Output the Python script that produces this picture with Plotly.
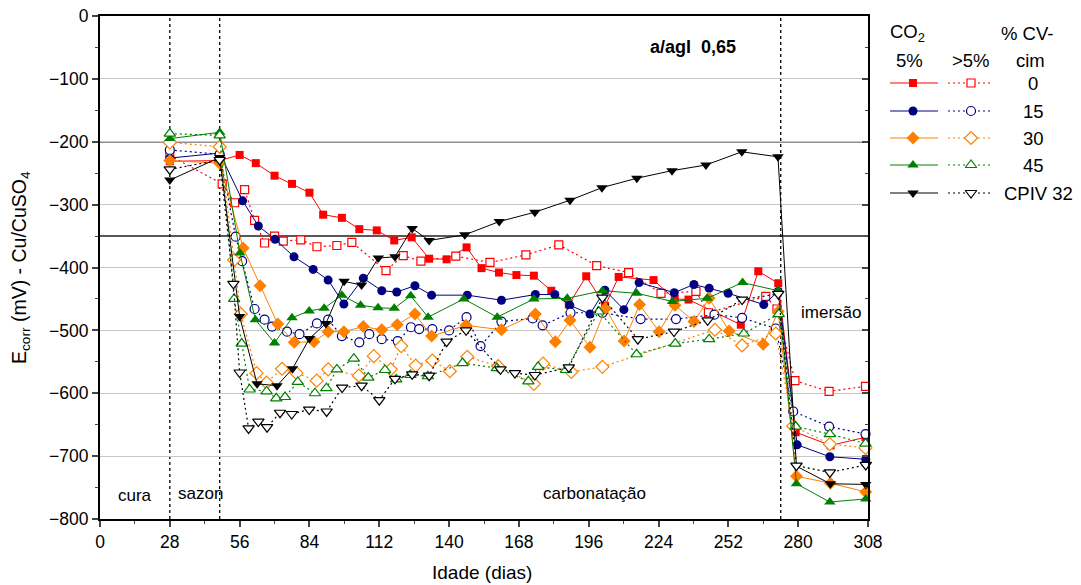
import plotly.graph_objects as go

# ---- data: age (days) and corrosion potential (mV vs Cu/CuSO4) ----
# 0 % CV (reference), 5 % CO2 and >5 % CO2
d0_5 = [28, 48, 56, 62.5, 70, 77, 84, 89.5, 97, 104, 111, 118, 125, 132, 139, 147, 153, 160, 167, 174,
        181, 188, 195, 202.5, 208, 222, 230.5, 236, 257, 264, 272, 279, 293, 307]
e0_5 = [-231, -230, -221, -234, -254, -267, -281, -316, -321, -339, -341, -357, -352, -386, -387, -368,
        -401, -408, -412, -413, -437, -459, -414, -461, -415, -420, -450, -451, -491, -406, -425, -662, -683, -670]
d0_g = [28, 49, 54, 58, 62, 66, 70, 73.5, 80.5, 87, 95, 101, 114.7, 121.6, 128.7, 142.7, 156.4, 170.8,
        184, 199.2, 212, 225, 239, 244, 267, 271.5, 278.7, 292.4, 307]
e0_g = [-222, -267, -297, -276, -325, -361, -350, -358, -356, -367, -365, -360, -405, -381, -390, -382,
        -392, -380, -364, -397, -408, -441, -438, -472, -446, -466, -580, -597, -589]

# 15 % CV
d15_5 = [28, 48, 57.2, 63.5, 70.2, 77.8, 85.5, 91.5, 97.8, 105.6, 113, 119, 126.3, 133, 147.3, 161, 174.6,
         182.4, 188.4, 196.5, 202.5, 210.1, 216.2, 230.3, 238.2, 244.3, 251.9, 266.2, 272, 279.6, 292.7, 307.1]
e15_5 = [-226, -218, -294, -334, -355, -383, -403, -420, -458, -417, -437, -439, -429, -444, -444, -452,
         -443, -443, -460, -474, -436, -467, -424, -440, -427, -433, -441, -459, -438, -682, -701, -705]
d15_g = [28, 48, 54.4, 57, 62, 66, 69, 75, 80, 87, 91.5, 97, 104, 108, 113, 119.4, 124.7, 128, 133.3, 140,
         147, 152.6, 161, 173.5, 177.5, 188.7, 201.5, 216.8, 231, 246.4, 257.5, 271, 278, 292.4, 307]
e15_g = [-213, -220, -351, -390, -466, -483, -494, -502, -506, -489, -483, -509, -519, -506, -514, -517,
         -495, -498, -498, -500, -479, -525, -486, -481, -492, -472, -472, -482, -482, -475, -480, -497,
         -629, -653, -665]

# 30 % CV
d30_5 = [28, 48, 57.4, 64.2, 71.3, 77.9, 85.8, 91.5, 97.8, 105.6, 113, 119.2, 126.3, 133, 146.8, 161,
         174.6, 182.6, 188.5, 196.5, 202.8, 210.2, 216.4, 224.2, 230.6, 238.2, 244.3, 252.3, 266, 272,
         279.3, 292.9, 307.1]
e30_5 = [-230, -234, -369, -429, -490, -519, -518, -502, -502, -494, -499, -491, -474, -509, -492, -499,
         -474, -518, -484, -527, -465, -517, -459, -502, -460, -486, -449, -501, -522, -470, -732, -743, -757]
d30_g = [28, 48, 53.8, 56.5, 62.8, 66.8, 73, 78.8, 86.9, 91.5, 103.8, 109.8, 116.6, 120.8, 126.6, 133.3,
         140.3, 147.3, 159.7, 174, 177.7, 189, 201.5, 246.6, 257.5, 271, 278, 292.7, 307]
e30_g = [-201, -208, -388, -474, -568, -583, -561, -568, -580, -562, -572, -541, -562, -525, -556, -548,
         -565, -542, -557, -585, -553, -566, -558, -499, -524, -505, -652, -681, -687]

# 45 % CV
d45_5 = [28, 48, 56.1, 62.3, 70, 77, 83.9, 89.9, 97, 104.5, 111.5, 118, 124.6, 131.6, 145.9, 159.3, 174,
         187.4, 201.5, 215.2, 229.6, 243.5, 257.7, 272, 279.3, 292.7, 307.1]
e45_5 = [-195, -185, -377, -483, -520, -480, -469, -465, -444, -460, -464, -465, -445, -479, -450, -479,
         -450, -449, -437, -441, -454, -449, -424, -437, -744, -773, -768]
d45_g = [28, 48, 53.8, 56.8, 60, 66.8, 70.7, 74.2, 79.3, 86.2, 90.8, 95, 101.8, 107.6, 114.3, 118.8, 124.5,
         131.5, 145.4, 159.2, 171.8, 175.7, 186.9, 200, 215.2, 230.7, 244.3, 258.2, 272.2, 279, 292.7, 307]
e45_g = [-187, -190, -450, -521, -594, -597, -608, -606, -582, -600, -592, -562, -545, -575, -563, -578,
         -571, -573, -552, -560, -581, -558, -563, -470, -538, -521, -514, -505, -474, -653, -665, -680]

# CPIV 32
dcp_5 = [28, 48, 56, 63, 71, 77.2, 84, 90.6, 97.9, 104.9, 111.6, 118.3, 125.2, 132, 146.3, 160.1, 174.4,
         188.5, 201.3, 215.3, 229.4, 243, 257.4, 271.9, 279.3, 292.9, 307.1]
ecp_5 = [-261, -225, -478, -585, -588, -561, -513, -489, -422, -428, -385, -383, -338, -357, -348, -327,
         -312, -293, -273, -258, -246, -237, -216, -224, -716, -744, -745]
dcp_g = [28, 48, 53.5, 56, 59.6, 63.5, 67, 72.2, 76.9, 83.9, 90.9, 97.1, 104.9, 112, 118.3, 125.2, 132,
         139, 146.8, 160.6, 166.4, 174.4, 188, 201.5, 215.7, 230.2, 243.7, 257.5, 272, 279.3, 292.7, 307.1]
ecp_g = [-244, -229, -426, -567, -656, -645, -654, -631, -633, -626, -629, -591, -588, -611, -577, -570,
         -572, -518, -500, -562, -568, -571, -559, -448, -514, -502, -484, -451, -442, -715, -726, -714]

mix_labels = ["0", "15", "30", "45", "CPIV 32"]
x_ticks = list(range(0, 309, 28))
y_ticks = list(range(-800, 1, 100))
stage_days = [28, 48, 273]           # end of curing, seasoning, start of immersion
limit_lines = [-200, -350]           # ASTM C876 thresholds

RED, NAVY, ORANGE, GREEN, BLACK = "#FF0000", "#000080", "#FF8000", "#008000", "#000000"
FONT = "Liberation Sans, Arial, sans-serif"
DOT = "2px,3px"

W, H = 1081, 585
ML, MR, MT, MB = 100, 1, 16, 66
PW, PH = W - ML - MR, H - MT - MB          # paper (plotting) area in px
X_END = 868                                 # right frame of the main plot, px

series = [
    (d0_5, e0_5, d0_g, e0_g, RED, "square", 8),
    (d15_5, e15_5, d15_g, e15_g, NAVY, "circle", 9),
    (d30_5, e30_5, d30_g, e30_g, ORANGE, "diamond", 10),
    (d45_5, e45_5, d45_g, e45_g, GREEN, "triangle-up", 10),
    (dcp_5, ecp_5, dcp_g, ecp_g, BLACK, "triangle-down", 10),
]

fig = go.Figure()
for d5, e5, dg, eg, col, sym, sz in series:
    fig.add_trace(go.Scatter(
        x=d5, y=e5, mode="lines+markers", cliponaxis=False, showlegend=False,
        line=dict(color=col, width=1),
        marker=dict(symbol=sym, size=sz, color=col, line=dict(color=col, width=0))))
    fig.add_trace(go.Scatter(
        x=dg, y=eg, mode="lines+markers", cliponaxis=False, showlegend=False,
        line=dict(color=col, width=1.2, dash=DOT),
        marker=dict(symbol=sym, size=sz, color="white", line=dict(color=col, width=1.2))))

# axis carrying the inward ticks on the right-hand frame
fig.add_trace(go.Scatter(x=[None], y=[None], xaxis="x", yaxis="y2", showlegend=False))

# ---- key drawn in its own pixel-mapped axes on the right ----
KEY_FONT = dict(size=18.5, color="black", family=FONT)
row_y = [83, 111, 138, 165, 193]
for (d5, e5, dg, eg, col, sym, sz), ry, lab in zip(series, row_y, mix_labels):
    fig.add_trace(go.Scatter(x=[890, 938], y=[ry, ry], mode="lines", xaxis="x3", yaxis="y3",
                             line=dict(color=col, width=1), showlegend=False, hoverinfo="skip"))
    fig.add_trace(go.Scatter(x=[913], y=[ry], mode="markers", xaxis="x3", yaxis="y3", showlegend=False,
                             marker=dict(symbol=sym, size=sz, color=col), hoverinfo="skip"))
    fig.add_trace(go.Scatter(x=[948, 993], y=[ry, ry], mode="lines", xaxis="x3", yaxis="y3",
                             line=dict(color=col, width=1.2, dash=DOT), showlegend=False, hoverinfo="skip"))
    fig.add_trace(go.Scatter(x=[971], y=[ry], mode="markers", xaxis="x3", yaxis="y3", showlegend=False,
                             marker=dict(symbol=sym, size=sz, color="white", line=dict(color=col, width=1.2)),
                             hoverinfo="skip"))
    fig.add_annotation(x=1033 if lab != "CPIV 32" else 1002, y=ry, xref="x3", yref="y3", text=lab,
                       showarrow=False, xanchor="center" if lab != "CPIV 32" else "left", yanchor="middle",
                       font=KEY_FONT)

for txt, xx, yy in [("CO<sub>2</sub>", 907, 33), ("5%", 909, 60), (">5%", 971, 60),
                    ("% CV-", 1027, 33), ("cim", 1030, 60)]:
    fig.add_annotation(x=xx, y=yy, xref="x3", yref="y3", text=txt, showarrow=False,
                       xanchor="center", yanchor="middle", font=KEY_FONT)

# ---- reference lines ----
for yv in limit_lines:
    fig.add_shape(type="line", x0=0, x1=308, y0=yv, y1=yv, xref="x", yref="y",
                  line=dict(color="#202020", width=1.5), layer="below")
for xv in stage_days:
    fig.add_shape(type="line", x0=xv, x1=xv, y0=-800, y1=0, xref="x", yref="y",
                  line=dict(color="black", width=1.3, dash="dot"), layer="below")

# ---- in-plot labels ----
for txt, xx, yy in [("cura", 14, -762), ("sazon", 40.5, -759), ("carbonatação", 198.5, -760),
                    ("imersão", 293, -472)]:
    fig.add_annotation(x=xx, y=yy, xref="x", yref="y", text=txt, showarrow=False,
                       xanchor="center", yanchor="middle",
                       font=dict(size=17, color="black", family=FONT))
fig.add_annotation(x=238, y=-49, xref="x", yref="y", text="<b>a/agl  0,65</b>", showarrow=False,
                   xanchor="center", yanchor="middle",
                   font=dict(size=18, color="black", family=FONT))

# axis titles (placed by pixel position)
fig.add_annotation(x=(482 - ML) / PW, y=(H - MB - 572) / PH, xref="paper", yref="paper",
                   xanchor="center", yanchor="middle",
                   text="Idade (dias)", showarrow=False, font=dict(size=19, color="black", family=FONT))
fig.add_annotation(x=(20 - ML) / PW, y=(H - MB - 268) / PH, xref="paper", yref="paper", textangle=-90,
                   xanchor="center", yanchor="middle",
                   text="E<sub>corr</sub> (mV) - Cu/CuSO<sub>4</sub>", showarrow=False,
                   font=dict(size=19.5, color="black", family=FONT))

axis_font = dict(size=17.5, color="black", family=FONT)
fig.update_layout(
    width=W, height=H,
    margin=dict(l=ML, r=MR, t=MT, b=MB, autoexpand=False),
    plot_bgcolor="white", paper_bgcolor="white",
    font=dict(family=FONT, color="black"),
    xaxis=dict(domain=[0, (X_END - ML) / PW], range=[0, 308], tickvals=x_ticks, ticks="outside", ticklen=6,
               tickwidth=1.5, minor=dict(dtick=14, tick0=0, ticks="outside", ticklen=3, tickwidth=1),
               showline=True, linecolor="black", linewidth=2, mirror=True, showgrid=False,
               zeroline=False, tickfont=axis_font, automargin=False),
    yaxis=dict(range=[-800, 0], tickvals=y_ticks, ticks="outside", ticklen=6, tickwidth=1.5,
               minor=dict(dtick=50, tick0=0, ticks="outside", ticklen=3, tickwidth=1),
               showline=True, linecolor="black", linewidth=2, mirror=True, automargin=False,
               showgrid=True, gridcolor="#c8c8c8", gridwidth=1, zeroline=False, tickfont=axis_font),
    yaxis2=dict(overlaying="y", side="right", anchor="x", range=[-800, 0], tickvals=y_ticks,
                ticks="inside", ticklen=6, tickwidth=1.5, showticklabels=False, showgrid=False,
                minor=dict(dtick=50, tick0=0, ticks="inside", ticklen=3, tickwidth=1),
                showline=False, zeroline=False, automargin=False),
    xaxis3=dict(domain=[(X_END + 1 - ML) / PW, 1], range=[X_END + 1, W - MR], visible=False,
                fixedrange=True),
    yaxis3=dict(domain=[0, 1], anchor="x3", range=[H - MB, MT], visible=False, fixedrange=True),
)

fig.write_html("out.html")
